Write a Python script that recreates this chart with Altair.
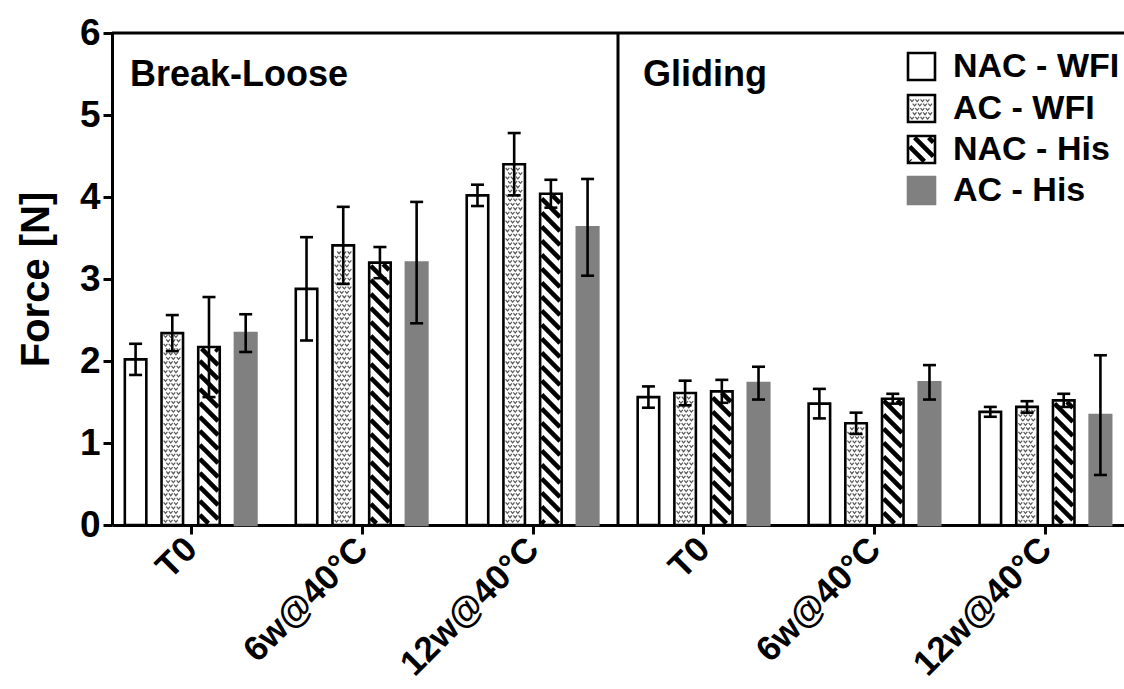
import altair as alt
import pandas as pd

# ---- data -------------------------------------------------------------
groups = ["T0", "6w@40°C", "12w@40°C"]
panels = ["Break-Loose", "Gliding"]
series = ["NAC - WFI", "AC - WFI", "NAC - His", "AC - His"]

# Break-Loose force (N), mean and SD per storage condition
bl_nac_wfi = [2.02, 2.88, 4.02]
bl_ac_wfi = [2.34, 3.41, 4.40]
bl_nac_his = [2.17, 3.20, 4.04]
bl_ac_his = [2.34, 3.20, 3.63]
bl_nac_wfi_sd = [0.19, 0.63, 0.13]
bl_ac_wfi_sd = [0.22, 0.47, 0.38]
bl_nac_his_sd = [0.61, 0.19, 0.17]
bl_ac_his_sd = [0.23, 0.74, 0.59]

# Gliding force (N), mean and SD per storage condition
gl_nac_wfi = [1.56, 1.48, 1.38]
gl_ac_wfi = [1.61, 1.24, 1.44]
gl_nac_his = [1.63, 1.54, 1.52]
gl_ac_his = [1.73, 1.74, 1.34]
gl_nac_wfi_sd = [0.13, 0.18, 0.06]
gl_ac_wfi_sd = [0.15, 0.13, 0.07]
gl_nac_his_sd = [0.14, 0.06, 0.08]
gl_ac_his_sd = [0.20, 0.21, 0.73]

means = {
    "Break-Loose": [bl_nac_wfi, bl_ac_wfi, bl_nac_his, bl_ac_his],
    "Gliding": [gl_nac_wfi, gl_ac_wfi, gl_nac_his, gl_ac_his],
}
sds = {
    "Break-Loose": [bl_nac_wfi_sd, bl_ac_wfi_sd, bl_nac_his_sd, bl_ac_his_sd],
    "Gliding": [gl_nac_wfi_sd, gl_ac_wfi_sd, gl_nac_his_sd, gl_ac_his_sd],
}

# ---- layout -----------------------------------------------------------
W, H = 1012, 492
X_LO, X_HI = -0.46, 5.46
Y_LO, Y_HI = 0, 6
PPX = W / (X_HI - X_LO)      # pixels per x unit (one condition)
PPY = H / (Y_HI - Y_LO)      # pixels per newton

FONT = "Liberation Sans"
BAR_STEP = 36.7 / PPX
BAR_HALF = 10.75 / PPX
CAP_HALF = 6.5 / PPX

fills = ["white", "white", "white", "#808080"]
strokes = ["black", "black", "black", "#808080"]


def x_of(u):
    return X_LO + u / PPX


def y_of(v_from_top):
    return Y_HI - v_from_top / PPY


# bars and their error bars
rect_rows, err_rows = [], []
for p, panel in enumerate(panels):
    for g in range(len(groups)):
        centre = 3 * p + g
        for k, s in enumerate(series):
            xc = centre + (k - 1.5) * BAR_STEP
            m = means[panel][k][g]
            sd = sds[panel][k][g]
            rect_rows.append(dict(series=s, x=xc - BAR_HALF, x2=xc + BAR_HALF, y=m, y2=0))
            err_rows.append(dict(x=xc, xl=xc - CAP_HALF, xr=xc + CAP_HALF, lo=m - sd, hi=m + sd))

# legend swatches (pixel layout inside the plot, converted to data units)
KEY_LEFT, KEY_SIZE = 796, 27
key_centres = [33.5, 75.5, 116.5, 157.5]
key_rows, key_labels = [], []
for s, c in zip(series, key_centres):
    key_rows.append(dict(series=s, x=x_of(KEY_LEFT), x2=x_of(KEY_LEFT + KEY_SIZE),
                         y=y_of(c - KEY_SIZE / 2), y2=y_of(c + KEY_SIZE / 2)))
    key_labels.append(dict(label=s, x=x_of(KEY_LEFT + 45), y=y_of(c)))

all_rects = rect_rows + key_rows


def to_px(r):
    return ((r["x"] - X_LO) * PPX, (r["x2"] - X_LO) * PPX,
            min(r["y"], r["y2"]) * PPY, max(r["y"], r["y2"]) * PPY)


# diagonal hatching for "NAC - His"
PERIOD, INSET = 14.0, 1.6
seg_rows = []
for r in all_rects:
    if r["series"] != "NAC - His":
        continue
    L, R, B, T = to_px(r)
    L, R, B, T = L + INSET, R - INSET, B + INSET, T - INSET
    c = PERIOD * int((L + B) // PERIOD)
    while c < R + T + PERIOD:
        u0 = max(L, c - T)
        u1 = min(R, c - B)
        if u1 - u0 > 0.5:
            seg_rows.append(dict(x=x_of(u0), y=(c - u0) / PPY, x2=x_of(u1), y2=(c - u1) / PPY))
        c += PERIOD

# stippled texture for "AC - WFI"
dot_rows = []
for r in all_rects:
    if r["series"] != "AC - WFI":
        continue
    L, R, B, T = to_px(r)
    v, row = B + 4, 0
    while v < T - 3:
        u = L + 4 + (2.6 if row % 2 else 0)
        while u < R - 3:
            dot_rows.append(dict(x=x_of(u), y=v / PPY))
            u += 5.2
        v += 4.4
        row += 1

rects = pd.DataFrame(all_rects)
errs = pd.DataFrame(err_rows)
segs = pd.DataFrame(seg_rows)
dots = pd.DataFrame(dot_rows)
labels = pd.DataFrame(key_labels)

# ---- chart ------------------------------------------------------------
x_scale = alt.Scale(domain=[X_LO, X_HI], nice=False, zero=False)
y_scale = alt.Scale(domain=[Y_LO, Y_HI], nice=False, zero=False)

tick_names = groups + groups
label_expr = "[" + ",".join("'" + t + "'" for t in tick_names) + "][datum.value]"

x_axis = alt.Axis(values=list(range(6)), labelExpr=label_expr, title=None, grid=False,
                  labelAngle=315, labelAlign="right", labelBaseline="middle",
                  labelFont=FONT, labelFontSize=35, labelFontWeight="bold", labelColor="black",
                  labelPadding=9, labelLimit=400, labelOverlap=False, labelBound=False,
                  labelFlush=False,
                  tickSize=9, tickWidth=3, tickColor="black",
                  domainWidth=3, domainColor="black")
y_axis = alt.Axis(values=list(range(7)), format="d", title="Force [N]", grid=False,
                  labelFont=FONT, labelFontSize=37, labelFontWeight="bold", labelColor="black",
                  labelPadding=3, tickSize=9, tickWidth=3, tickColor="black",
                  domainWidth=3, domainColor="black",
                  titleFont=FONT, titleFontSize=40, titleFontWeight="bold", titleColor="black",
                  titleAngle=270, titleX=-76, titleY=H / 2, titleAlign="center",
                  titleBaseline="middle")

fill_scale = alt.Scale(domain=series, range=fills)
stroke_scale = alt.Scale(domain=series, range=strokes)

bars = alt.Chart(rects).mark_rect(strokeWidth=0).encode(
    x=alt.X("x:Q", scale=x_scale, axis=x_axis),
    x2="x2:Q",
    y=alt.Y("y:Q", scale=y_scale, axis=y_axis),
    y2="y2:Q",
    fill=alt.Fill("series:N", scale=fill_scale, legend=None),
)

stipple = alt.Chart(dots).mark_point(
    shape="M-1,-0.6L0,0.6L1,-0.6", filled=False, size=14, strokeWidth=1.2,
    color="#555555", opacity=1,
).encode(x="x:Q", y="y:Q")

hatch = alt.Chart(segs).mark_rule(strokeWidth=4.6, color="black", strokeCap="butt").encode(
    x="x:Q", x2="x2:Q", y="y:Q", y2="y2:Q")

outline = alt.Chart(rects).mark_rect(fillOpacity=0, strokeWidth=2.6).encode(
    x="x:Q", x2="x2:Q", y="y:Q", y2="y2:Q",
    stroke=alt.Stroke("series:N", scale=stroke_scale, legend=None),
)

whisker = alt.Chart(errs).mark_rule(strokeWidth=2.6, color="black").encode(
    x="x:Q", y="lo:Q", y2="hi:Q")
cap_hi = alt.Chart(errs).mark_rule(strokeWidth=2.6, color="black").encode(
    x="xl:Q", x2="xr:Q", y="hi:Q")
cap_lo = alt.Chart(errs).mark_rule(strokeWidth=2.6, color="black").encode(
    x="xl:Q", x2="xr:Q", y="lo:Q")

frame = pd.DataFrame({"top": [Y_HI], "split": [2.5]})
top_rule = alt.Chart(frame).mark_rule(strokeWidth=3, color="black").encode(y="top:Q")
split_rule = alt.Chart(frame).mark_rule(strokeWidth=3, color="black").encode(x="split:Q")

title_bl = alt.Chart(frame).mark_text(
    align="left", baseline="alphabetic", font=FONT, fontSize=36, fontWeight="bold", color="black"
).encode(x=alt.value(18), y=alt.value(53), text=alt.value(panels[0]))
title_gl = alt.Chart(frame).mark_text(
    align="left", baseline="alphabetic", font=FONT, fontSize=36, fontWeight="bold", color="black"
).encode(x=alt.value(531), y=alt.value(53), text=alt.value(panels[1]))

key_text = alt.Chart(labels).mark_text(
    align="left", baseline="middle", font=FONT, fontSize=34, fontWeight="bold", color="black"
).encode(x="x:Q", y="y:Q", text="label:N")

chart = alt.layer(
    bars, stipple, hatch, outline, whisker, cap_hi, cap_lo,
    top_rule, split_rule, title_bl, title_gl, key_text,
).properties(
    width=W, height=H,
    autosize=alt.AutoSizeParams(type="none"),
    padding={"left": 112, "top": 33, "right": 0, "bottom": 164},
    background="white",
).configure_view(strokeWidth=0)

chart.save("out.html", embed_options={"renderer": "svg", "actions": False})
